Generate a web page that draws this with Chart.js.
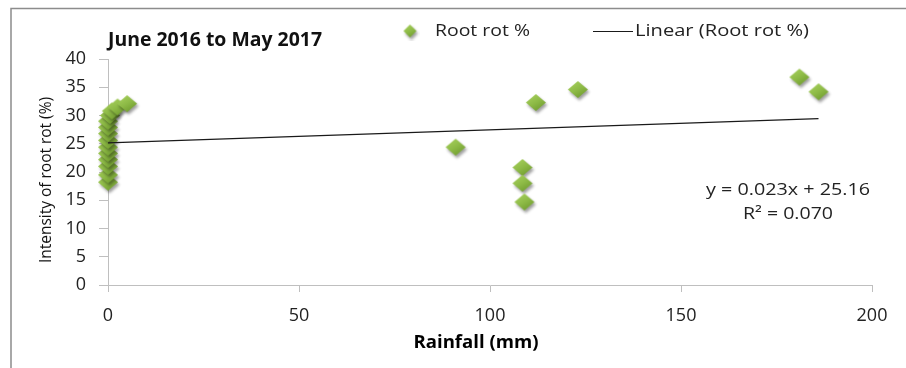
<!DOCTYPE html>
<html>
<head>
<meta charset="utf-8">
<script src="https://cdn.jsdelivr.net/npm/chart.js@4.4.1/dist/chart.umd.min.js"></script>
<style>
  html, body { margin: 0; padding: 0; background: #ffffff; }
  #wrap { width: 906px; height: 368px; position: relative; }
  canvas { display: block; }
</style>
</head>
<body>
<div id="wrap"><canvas id="chart" width="906" height="368"></canvas></div>
<script>
// Monthly rainfall (mm) against root rot intensity (%), June 2016 to May 2017
const rainfall = [0, 0, 0, 0, 0, 0, 0, 0, 0, 0, 0.5, 1, 2.5, 5, 91, 108.5, 108.5, 109, 112, 123, 181, 186];
const rootRot  = [18.2, 19.5, 21.0, 22.2, 23.3, 24.4, 25.6, 26.8, 27.9, 29.0, 30.0, 30.8, 31.5, 32.1, 24.4, 20.8, 18.0, 14.7, 32.3, 34.6, 36.8, 34.2];

// Linear trend fitted to the series
const trendSlope = 0.023;
const trendIntercept = 25.16;
const trendR2 = 0.070;

const xTickValues = [0, 50, 100, 150, 200];
const yTickValues = [0, 5, 10, 15, 20, 25, 30, 35, 40];

const titleText = 'June 2016 to May 2017';
const seriesName = 'Root rot %';
const trendName = 'Linear (Root rot %)';
const xTitle = 'Rainfall (mm)';
const yTitle = 'Intensity of root rot (%)';

const FONT = '"Open Sans", "DejaVu Sans", sans-serif';

// Shaded green diamond marker with a soft drop shadow
function diamondMarker(w, h, pad) {
  const c = document.createElement('canvas');
  c.width = w + pad * 2;
  c.height = h + pad * 2;
  const g = c.getContext('2d');
  const cx = c.width / 2, cy = c.height / 2;
  g.save();
  g.shadowColor = 'rgba(0,0,0,0.38)';
  g.shadowBlur = 3;
  g.shadowOffsetX = 1.5;
  g.shadowOffsetY = 2.5;
  g.beginPath();
  g.moveTo(cx, cy - h / 2);
  g.lineTo(cx + w / 2, cy);
  g.lineTo(cx, cy + h / 2);
  g.lineTo(cx - w / 2, cy);
  g.closePath();
  const grad = g.createLinearGradient(cx - w / 4, cy - h / 2, cx + w / 4, cy + h / 2);
  grad.addColorStop(0, '#a6cf5c');
  grad.addColorStop(0.5, '#8dba46');
  grad.addColorStop(1, '#6f9b2e');
  g.fillStyle = grad;
  g.fill();
  g.restore();
  return c;
}

const marker = diamondMarker(20, 17, 5);
const legendMarker = diamondMarker(13, 13, 3);

const points = rainfall.map((x, i) => ({ x: x, y: rootRot[i] }));
const xMin = Math.min(...rainfall), xMax = Math.max(...rainfall);
const trendPoints = [
  { x: xMin, y: trendSlope * xMin + trendIntercept },
  { x: xMax, y: trendSlope * xMax + trendIntercept }
];

// Draws text stretched horizontally to a given width, anchored at x by align
function fitText(ctx, text, x, y, width, align) {
  const natural = ctx.measureText(text).width;
  const sx = width / natural;
  ctx.save();
  ctx.textAlign = 'left';
  let left = x;
  if (align === 'center') left = x - width / 2;
  ctx.translate(left, y);
  ctx.scale(sx, 1);
  ctx.fillText(text, 0, 0);
  ctx.restore();
}

// Title, legend, axis titles, trend equation and the outer frame
const decorations = {
  id: 'decorations',
  afterDraw(chart) {
    const ctx = chart.ctx;
    ctx.save();
    // frame
    ctx.strokeStyle = '#8c8c8c';
    ctx.lineWidth = 1.5;
    ctx.beginPath();
    ctx.moveTo(11, 368);
    ctx.lineTo(11, 8.5);
    ctx.lineTo(906, 8.5);
    ctx.stroke();

    ctx.textBaseline = 'alphabetic';
    ctx.fillStyle = '#111';
    ctx.font = 'bold 19px ' + FONT;
    fitText(ctx, titleText, 108, 46, 214, 'left');

    // legend
    ctx.drawImage(legendMarker, 410 - legendMarker.width / 2, 31 - legendMarker.height / 2);
    ctx.font = '17px ' + FONT;
    ctx.fillStyle = '#222';
    fitText(ctx, seriesName, 435, 36, 95, 'left');
    ctx.strokeStyle = '#1a1a1a';
    ctx.lineWidth = 1;
    ctx.beginPath();
    ctx.moveTo(593, 31.5);
    ctx.lineTo(633, 31.5);
    ctx.stroke();
    fitText(ctx, trendName, 635, 36, 174, 'left');

    // equation
    fitText(ctx, 'y = ' + trendSlope.toFixed(3) + 'x + ' + trendIntercept.toFixed(2), 788, 195, 164, 'center');
    fitText(ctx, 'R\u00B2 = ' + trendR2.toFixed(3), 788, 219, 90, 'center');

    // axis titles
    ctx.fillStyle = '#000';
    ctx.font = 'bold 18px ' + FONT;
    fitText(ctx, xTitle, 476, 348, 125, 'center');

    ctx.fillStyle = '#111';
    ctx.font = '16px ' + FONT;
    ctx.save();
    ctx.translate(46, 180);
    ctx.rotate(-Math.PI / 2);
    ctx.textBaseline = 'middle';
    fitText(ctx, yTitle, 0, 0, 166, 'center');
    ctx.restore();
    ctx.restore();
  }
};

new Chart(document.getElementById('chart'), {
  type: 'scatter',
  data: {
    datasets: [
      {
        type: 'line',
        label: trendName,
        data: trendPoints,
        borderColor: '#1a1a1a',
        borderWidth: 1.2,
        pointRadius: 0,
        fill: false,
        order: 0
      },
      {
        label: seriesName,
        data: points,
        pointStyle: marker,
        pointRadius: 9,
        clip: false,
        order: 1
      }
    ]
  },
  options: {
    responsive: false,
    animation: false,
    devicePixelRatio: 1,
    layout: { padding: { left: 0, top: 59, right: 34, bottom: 0 } },
    plugins: { legend: { display: false }, tooltip: { enabled: false } },
    scales: {
      x: {
        type: 'linear',
        min: 0,
        max: 200,
        afterBuildTicks(scale) { scale.ticks = xTickValues.map(v => ({ value: v })); },
        afterFit(scale) { scale.height = 83; },
        ticks: { color: '#222', font: { family: FONT, size: 18 }, padding: 13 },
        grid: { drawOnChartArea: false, tickLength: 7, color: '#bfbfbf' },
        border: { color: '#bfbfbf', width: 1 }
      },
      y: {
        type: 'linear',
        min: 0,
        max: 40,
        afterBuildTicks(scale) { scale.ticks = yTickValues.map(v => ({ value: v })); },
        afterFit(scale) { scale.width = 108; },
        ticks: { color: '#222', font: { family: FONT, size: 18 }, padding: 13 },
        grid: { drawOnChartArea: false, tickLength: 9, color: '#bfbfbf' },
        border: { color: '#bfbfbf', width: 1 }
      }
    }
  },
  plugins: [decorations]
});
</script>
</body>
</html>
